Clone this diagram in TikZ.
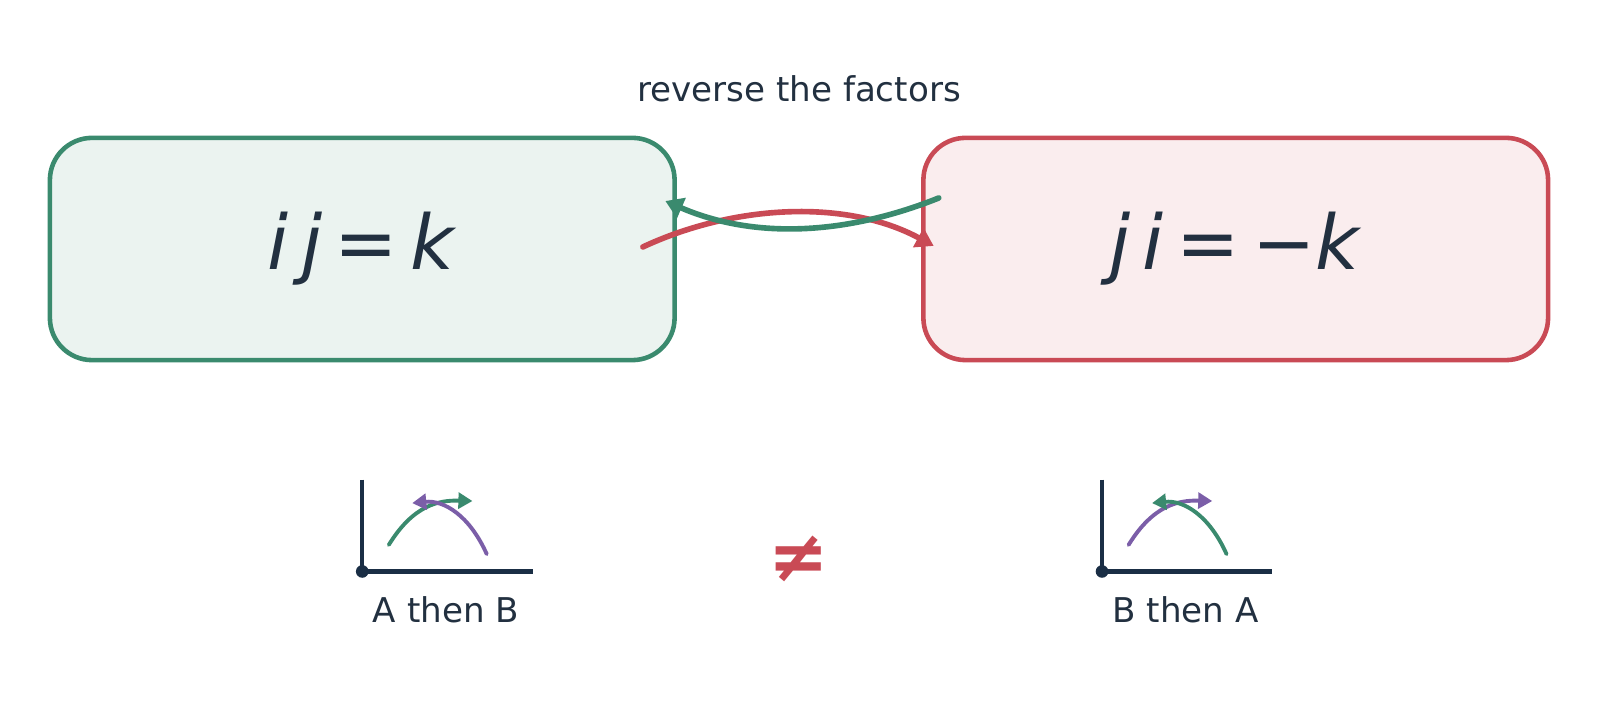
\documentclass[tikz,border=0pt]{standalone}
\usepackage{fontspec}
\setmainfont{DejaVu Sans}
\usetikzlibrary{arrows.meta}
\definecolor{mygreen}{HTML}{3A8A6E}
\definecolor{myred}{HTML}{C94A55}
\definecolor{mypurple}{HTML}{7B5EA8}
\definecolor{myink}{HTML}{223040}
\definecolor{mynavy}{HTML}{1A2E45}
\begin{document}
\begin{tikzpicture}[x=0.0102cm,y=-0.0102cm]
  \tikzstyle{box}=[rounded corners=12pt, line width=1.3pt, minimum width=6.24cm, minimum height=2.22cm, text=myink, font=\fontsize{21.5pt}{24pt}\selectfont]
  \tikzstyle{swap}=[line width=1.6pt, line cap=round, -{Triangle[length=5pt,width=6pt]}]
  \tikzstyle{axis}=[line width=1.2pt, draw=mynavy]
  \tikzstyle{turn}=[line width=1.1pt, line cap=round, -{Triangle[length=4pt,width=4.5pt]}]
  \tikzstyle{caption}=[text=myink, font=\fontsize{9.7pt}{11pt}\selectfont]

  \useasboundingbox (0,0) rectangle (1568,689);
  \clip (0,0) rectangle (1568,689);

  \node (left) at (355,244) [box, draw=mygreen, fill=mygreen!10] {\textit{i\,j}\,=\,\textit{k}};
  \node (right) at (1211,244) [box, draw=myred, fill=myred!10] {\textit{j\,i}\,=\,−\textit{k}};

  \node (title) at (783,87) [caption] {reverse the factors};

  \coordinate (rs) at (630,242);
  \coordinate (re) at (915,241);
  \coordinate (gs) at (920,194);
  \coordinate (ge) at (652,197);
  \draw[swap, draw=myred] (rs) .. controls (720,200) and (830,195) .. (re);
  \draw[swap, draw=mygreen] (gs) .. controls (830,230) and (740,235) .. (ge);

  % first icon
  \coordinate (o1) at (355,560);
  \draw[axis] (355,470) -- (o1) -- (522,560);
  \fill[mynavy] (o1) circle (1.8pt);
  \draw[turn, draw=mygreen] (381,534) .. controls (405,495) and (430,490) .. (463,491);
  \draw[turn, draw=mypurple] (477,543) .. controls (460,505) and (435,490) .. (404,493);
  \node (cap1) at (437,598) [caption] {A then B};

  % second icon
  \coordinate (o2) at (1080,560);
  \draw[axis] (1080,470) -- (o2) -- (1247,560);
  \fill[mynavy] (o2) circle (1.8pt);
  \draw[turn, draw=mypurple] (1106,534) .. controls (1130,495) and (1155,490) .. (1188,491);
  \draw[turn, draw=mygreen] (1202,543) .. controls (1185,505) and (1160,490) .. (1129,493);
  \node (cap2) at (1162,598) [caption] {B then A};

  \node (neq) at (783,548) [text=myred, font=\fontsize{20.5pt}{22pt}\selectfont\bfseries] {≠};
\end{tikzpicture}
\end{document}
